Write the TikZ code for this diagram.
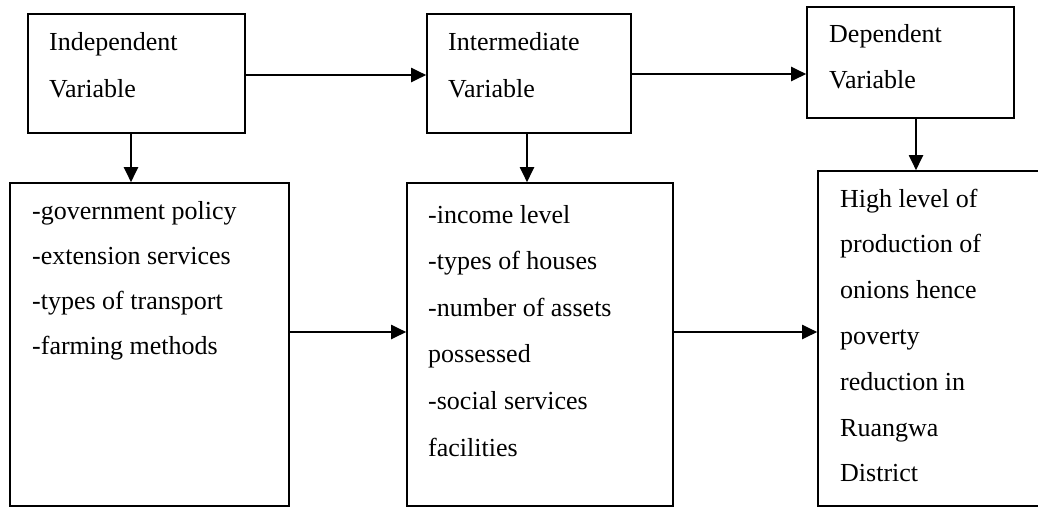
\documentclass[tikz,border=0pt]{standalone}
\usepackage{fontspec}
\setmainfont{Liberation Serif}
\usetikzlibrary{arrows.meta}
\begin{document}
\begin{tikzpicture}[x=1pt,y=-1pt,
  box/.style={draw,line width=1.6pt,inner sep=0pt},
  arr/.style={line width=2pt,-{Triangle[length=15pt,width=14pt]}},
  txt/.style={anchor=base west,inner sep=0pt,font=\fontsize{26}{31}\selectfont}]
\useasboundingbox (0,0) rectangle (1038,507);
% top boxes
\node[box,minimum width=217pt,minimum height=119pt] (b1) at (136.5,73.5) {};
\node[box,minimum width=204pt,minimum height=119pt] (b2) at (529,73.5) {};
\node[box,minimum width=207pt,minimum height=111pt] (b3) at (910.5,62.5) {};
% bottom boxes
\node[box,minimum width=279pt,minimum height=323pt] (c1) at (149.5,344.5) {};
\node[box,minimum width=266pt,minimum height=323pt] (c2) at (540,344.5) {};
\node[box,minimum width=227pt,minimum height=335pt] (c3) at (931.5,338.5) {};
% top texts
\node[txt] (b1a) at (49,50) {Independent};
\node[txt] (b1b) at (49,97) {Variable};
\node[txt] (b2a) at (448,50) {Intermediate};
\node[txt] (b2b) at (448,97) {Variable};
\node[txt] (b3a) at (829,42.5) {Dependent};
\node[txt] (b3b) at (829,88.5) {Variable};
% bottom texts
\foreach \t [count=\i] in {-government policy,-extension services,-types of transport,-farming methods}
  \node[txt] (c1t\i) at (32,{219+45*(\i-1)}) {\t};
\foreach \t [count=\i] in {-income level,-types of houses,-number of assets,possessed,-social services,facilities}
  \node[txt] (c2t\i) at (428,{223+46.6*(\i-1)}) {\t};
\foreach \t [count=\i] in {High level of,production of,onions hence,poverty,reduction in,Ruangwa,District}
  \node[txt] (c3t\i) at (840,{207+45.8*(\i-1)}) {\t};
% horizontal arrows
\draw[arr] ([yshift=-1.5pt]b1.east) -- ([yshift=-1.5pt]b2.west);
\draw[arr] ([yshift=-0.5pt]b2.east) -- ([yshift=-0.5pt]b2.east -| b3.west);
\draw[arr] ([yshift=12.5pt]c1.east) -- ([yshift=12.5pt]c1.east -| c2.west);
\draw[arr] ([yshift=12.5pt]c2.east) -- ([yshift=12.5pt]c2.east -| c3.west);
% vertical arrows
\draw[arr] ([xshift=-5.5pt]b1.south) -- ([xshift=-5.5pt]b1.south |- c1.north);
\draw[arr] ([xshift=-2pt]b2.south) -- ([xshift=-2pt]b2.south |- c2.north);
\draw[arr] ([xshift=5.5pt]b3.south) -- ([xshift=5.5pt]b3.south |- c3.north);
\end{tikzpicture}
\end{document}
